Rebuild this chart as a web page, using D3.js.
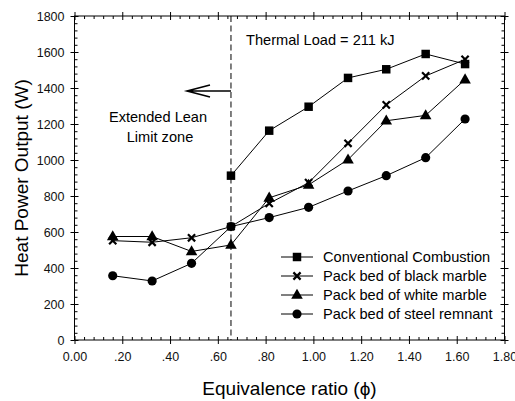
<!DOCTYPE html>
<html>
<head>
<meta charset="utf-8">
<script src="https://cdn.jsdelivr.net/npm/d3@7"></script>
<style>
  body { margin: 0; background: #fff; }
  svg { display: block; font-family: Arial, "Liberation Sans", sans-serif; }
</style>
</head>
<body>
<svg id="chart" width="515" height="401"></svg>
<script>
// data
const phi = [0.16, 0.325, 0.49, 0.655, 0.815, 0.98, 1.145, 1.305, 1.47, 1.635];
const conventional = [null, null, null, 913, 1163, 1296, 1456, 1504, 1589, 1533];
const blackMarble = [552, 543, 568, 630, 759, 874, 1093, 1306, 1467, 1559];
const whiteMarble = [575, 575, 492, 528, 790, 862, 1002, 1218, 1248, 1447];
const steelRemnant = [357, 328, 426, 630, 680, 737, 828, 913, 1013, 1228];
const seriesNames = ["Conventional Combustion", "Pack bed of black marble", "Pack bed of white marble", "Pack bed of steel remnant"];
const seriesMarks = ["square", "cross", "triangle", "circle"];

const xTicks = [0, 0.2, 0.4, 0.6, 0.8, 1.0, 1.2, 1.4, 1.6, 1.8];
const xTickLabels = ["0.00", ".20", ".40", ".60", ".80", "1.00", "1.20", "1.40", "1.60", "1.80"];
const yTicks = [0, 200, 400, 600, 800, 1000, 1200, 1400, 1600, 1800];
const leanLimit = 0.655;

const svg = d3.select("#chart");
const margin = {top: 16, right: 10.5, bottom: 61, left: 74.5};
const width = 515, height = 401;

const x = d3.scaleLinear().domain([0, 1.8]).range([margin.left, width - margin.right]);
const y = d3.scaleLinear().domain([0, 1800]).range([height - margin.bottom, margin.top]);

const xMinor = d3.range(0, 1.8001, 0.04).filter(v => Math.abs(v * 5 - Math.round(v * 5)) > 1e-6);
const yMinor = d3.range(0, 1800.1, 40).filter(v => v % 200 !== 0);

function ticksG(axis, transform) {
  svg.append("g")
      .attr("transform", transform)
      .call(axis)
      .call(g => g.select(".domain").remove())
      .call(g => g.selectAll("text").remove());
}

// bottom axis
const xAx = svg.append("g")
    .attr("transform", `translate(0,${y(0)})`)
    .call(d3.axisBottom(x).tickValues(xTicks).tickFormat((d, i) => xTickLabels[i]).tickSize(4).tickPadding(8))
    .call(g => g.select(".domain").remove());
xAx.selectAll("text").attr("font-size", 12.5).attr("fill", "#111");
ticksG(d3.axisTop(x).tickValues(xTicks).tickSize(4), `translate(0,${y(0)})`);
ticksG(d3.axisTop(x).tickValues(xMinor).tickSize(3), `translate(0,${y(0)})`);
// top axis
ticksG(d3.axisTop(x).tickValues(xTicks).tickSize(4), `translate(0,${y(1800)})`);
ticksG(d3.axisBottom(x).tickValues(xTicks).tickSize(4), `translate(0,${y(1800)})`);
ticksG(d3.axisBottom(x).tickValues(xMinor).tickSize(3), `translate(0,${y(1800)})`);

// left axis
const yAx = svg.append("g")
    .attr("transform", `translate(${x(0)},0)`)
    .call(d3.axisLeft(y).tickValues(yTicks).tickFormat(d3.format("d")).tickSize(4).tickPadding(6))
    .call(g => g.select(".domain").remove());
yAx.selectAll("text").attr("font-size", 12.5).attr("fill", "#111");
ticksG(d3.axisRight(y).tickValues(yTicks).tickSize(4), `translate(${x(0)},0)`);
ticksG(d3.axisRight(y).tickValues(yMinor).tickSize(3), `translate(${x(0)},0)`);
// right axis
ticksG(d3.axisRight(y).tickValues(yTicks).tickSize(4), `translate(${x(1.8)},0)`);
ticksG(d3.axisLeft(y).tickValues(yTicks).tickSize(4), `translate(${x(1.8)},0)`);
ticksG(d3.axisLeft(y).tickValues(yMinor).tickSize(3), `translate(${x(1.8)},0)`);

// frame
svg.append("rect")
    .attr("x", x(0)).attr("y", y(1800))
    .attr("width", x(1.8) - x(0)).attr("height", y(0) - y(1800))
    .attr("fill", "none").attr("stroke", "#000").attr("stroke-width", 1);

// lean limit line + annotations
svg.append("line")
    .attr("x1", x(leanLimit)).attr("x2", x(leanLimit))
    .attr("y1", y(1800)).attr("y2", y(0))
    .attr("stroke", "#000").attr("stroke-dasharray", "6,3.5");

svg.append("text").attr("x", 246).attr("y", 45).attr("font-size", 14.6).text("Thermal Load = 211 kJ");
svg.append("text").attr("x", 158).attr("y", 122).attr("font-size", 14.6).attr("text-anchor", "middle").text("Extended Lean");
svg.append("text").attr("x", 160).attr("y", 142).attr("font-size", 14.6).attr("text-anchor", "middle").text("Limit zone");

const ay = 91;
svg.append("path")
    .attr("d", `M${x(leanLimit)},${ay}H187M210,${ay - 6}L187,${ay}L210,${ay + 6}`)
    .attr("fill", "none").attr("stroke", "#000").attr("stroke-width", 1.6);

// series
const seriesValues = [conventional, blackMarble, whiteMarble, steelRemnant];

function marker(sel, kind) {
  if (kind === "cross") {
    sel.append("path").attr("d", "M-3.6,-3.6L3.6,3.6M-3.6,3.6L3.6,-3.6")
        .attr("stroke", "#000").attr("stroke-width", 2.2).attr("fill", "none");
  } else {
    const t = kind === "square" ? d3.symbolSquare : kind === "triangle" ? d3.symbolTriangle : d3.symbolCircle;
    const s = kind === "square" ? 72 : kind === "triangle" ? 58 : 66;
    sel.append("path").attr("d", d3.symbol(t, s)()).attr("fill", "#000")
        .attr("transform", kind === "triangle" ? "translate(0,0.5)" : null);
  }
}

const line = d3.line().defined(d => d[1] != null).x(d => x(d[0])).y(d => y(d[1]));

seriesValues.forEach((vals, si) => {
  const pts = phi.map((p, i) => [p, vals[i]]);
  svg.append("path").datum(pts).attr("d", line)
      .attr("fill", "none").attr("stroke", "#000").attr("stroke-width", 1);
});
seriesValues.forEach((vals, si) => {
  const pts = phi.map((p, i) => [p, vals[i]]).filter(d => d[1] != null);
  svg.append("g").selectAll("g").data(pts).join("g")
      .attr("transform", d => `translate(${x(d[0])},${y(d[1])})`)
      .each(function() { marker(d3.select(this), seriesMarks[si]); });
});

// legend
const leg = svg.append("g");
seriesNames.forEach((name, i) => {
  const ly = 257 + i * 19;
  leg.append("line").attr("x1", 281).attr("x2", 313).attr("y1", ly).attr("y2", ly).attr("stroke", "#000");
  marker(leg.append("g").attr("transform", `translate(297,${ly})`), seriesMarks[i]);
  leg.append("text").attr("x", 323).attr("y", ly + 5).attr("font-size", 14.6).text(name);
});

// axis titles
svg.append("text")
    .attr("x", (x(0) + x(1.8)) / 2).attr("y", 395)
    .attr("text-anchor", "middle").attr("font-size", 19)
    .text("Equivalence ratio (\u03d5)");
svg.append("text")
    .attr("transform", `translate(28,${(y(0) + y(1800)) / 2}) rotate(-90)`)
    .attr("text-anchor", "middle").attr("font-size", 19)
    .text("Heat Power Output (W)");
</script>
</body>
</html>
